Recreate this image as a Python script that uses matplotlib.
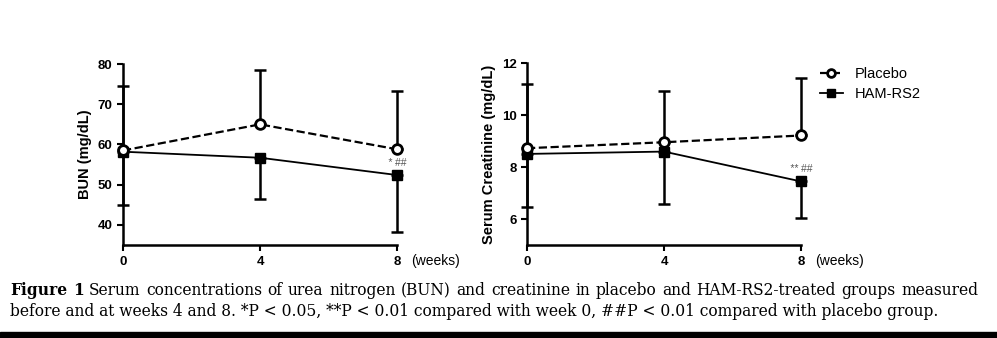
import numpy as np
import matplotlib
matplotlib.use('Agg')
import matplotlib.pyplot as plt

weeks = [0, 4, 8]

bun_placebo = [58.5, 65.0, 58.8]
bun_placebo_sd = [16.1, 13.6, 14.4]
bun_ham = [58.2, 56.7, 52.4]
bun_ham_sd = [13.2, 10.2, 14.1]

cr_placebo = [8.73, 8.96, 9.22]
cr_placebo_sd = [2.46, 1.97, 2.20]
cr_ham = [8.51, 8.60, 7.45]
cr_ham_sd = [2.03, 2.02, 1.39]

caption_1 = ('Serum concentrations of urea nitrogen (BUN) and creatinine in placebo '
             'and HAM-RS2-treated groups measured')
caption_2 = ('before and at weeks 4 and 8. *P < 0.05, **P < 0.01 compared with week 0, '
             '##P < 0.01 compared with placebo group.')

plt.rcParams['font.family'] = ['Liberation Sans', 'DejaVu Sans']


def panel(ax, plac, plac_sd, ham, ham_sd, ylim, yticks, ylabel, star):
    zero = [0, 0, 0]
    # placebo: error bar upward only, HAM-RS2: downward only
    ax.errorbar(weeks, plac, yerr=[zero, plac_sd], fmt='none', ecolor='k',
                elinewidth=1.8, capsize=4, capthick=1.8, clip_on=False, zorder=2)
    ax.errorbar(weeks, ham, yerr=[ham_sd, zero], fmt='none', ecolor='k',
                elinewidth=1.8, capsize=4, capthick=1.8, clip_on=False, zorder=2)
    ax.plot(weeks, plac, '--', color='k', lw=1.6, marker='o', ms=7,
            mfc='white', mec='k', mew=2, clip_on=False, zorder=4, label='Placebo')
    ax.plot(weeks, ham, '-', color='k', lw=1.3, marker='s', ms=6.5,
            mfc='k', mec='k', clip_on=False, zorder=3, label='HAM-RS2')
    ax.set_xlim(0, 8)
    ax.set_ylim(*ylim)
    ax.set_xticks(weeks)
    ax.set_yticks(yticks)
    ax.spines['top'].set_visible(False)
    ax.spines['right'].set_visible(False)
    ax.spines['left'].set_linewidth(1.8)
    ax.spines['bottom'].set_linewidth(1.8)
    ax.tick_params(axis='both', direction='out', length=4, width=1.5,
                   labelsize=9.5, colors='k')
    ax.tick_params(axis='x', pad=4)
    for lab in ax.get_xticklabels() + ax.get_yticklabels():
        lab.set_fontweight('bold')
    ax.set_ylabel(ylabel, fontsize=10.5, fontweight='bold', labelpad=4)
    span = ylim[1] - ylim[0]
    ax.text(8.4, ylim[0] - 0.05 * span, '(weeks)', fontsize=10, ha='left', va='top')
    ax.annotate(star, (8, ham[2]), xytext=(0, 5), textcoords='offset points',
                ha='center', va='bottom', fontsize=7.5, color='#555555', style='italic')


def justified(fig, words, x0, x1, y, **kw):
    # spread words evenly between x0 and x1 (figure fractions)
    r = fig.canvas.get_renderer()
    W = fig.bbox.width
    items = [fig.text(0, y, w, fontweight=wt, **kw) for w, wt in words]
    widths = [t.get_window_extent(r).width for t in items]
    gap = ((x1 - x0) * W - sum(widths)) / (len(items) - 1)
    x = x0 * W
    for t, w in zip(items, widths):
        t.set_x(x / W)
        x += w + gap


fig = plt.figure(figsize=(9.97, 3.38), dpi=100)
ax1 = fig.add_axes([0.1234, 0.2751, 0.2748, 0.5355])
ax2 = fig.add_axes([0.5286, 0.2751, 0.2748, 0.5375])

panel(ax1, bun_placebo, bun_placebo_sd, bun_ham, bun_ham_sd,
      (35, 80), [40, 50, 60, 70, 80], 'BUN (mg/dL)', '* ##')
panel(ax2, cr_placebo, cr_placebo_sd, cr_ham, cr_ham_sd,
      (5, 12), [6, 8, 10, 12], 'Serum Creatinine (mg/dL)', '** ##')

ax2.legend(loc='upper left', bbox_to_anchor=(1.02, 1.05), frameon=False,
           fontsize=10.5, handlelength=1.6, handletextpad=0.8, labelspacing=0.4,
           markerscale=0.8)

cap_font = ['DejaVu Serif']
words = [('Figure', 'bold'), ('1', 'bold')] + [(w, 'normal') for w in caption_1.split()]
justified(fig, words, 0.010, 0.981, 0.126, fontsize=11.2, family=cap_font)
fig.text(0.010, 0.064, caption_2, fontsize=11.2, family=cap_font)

# black rule along the bottom edge
fig.patches.append(plt.Rectangle((0, 0), 1, 0.018, transform=fig.transFigure,
                                 color='k', zorder=0))

plt.savefig('out.png', dpi=100)
